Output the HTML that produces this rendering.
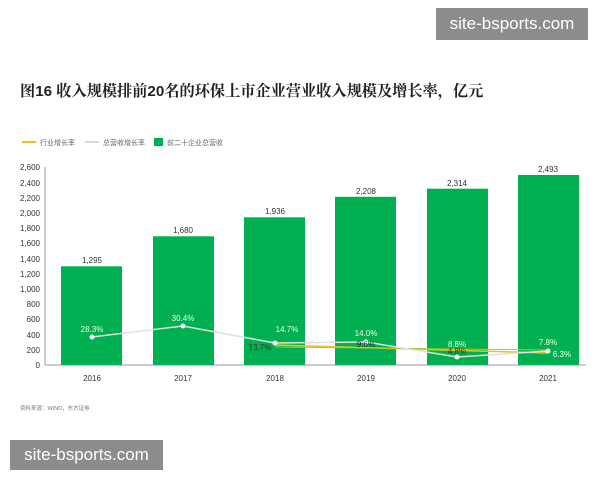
<!DOCTYPE html>
<html><head><meta charset="utf-8"><style>
body{margin:0;width:600px;height:480px;background:#fff;position:relative;overflow:hidden;font-family:"Liberation Sans","Noto Sans CJK SC",sans-serif}
.wm{position:absolute;background:#8c8c8c;color:#fff;font-size:17px;display:flex;align-items:center;justify-content:center}
</style></head><body>
<div class="wm" style="left:436px;top:8px;width:152px;height:32px">site-bsports.com</div>
<div class="wm" style="left:10px;top:440px;width:153px;height:30px">site-bsports.com</div>
<div style="position:absolute;left:20px;top:80px;font-size:15.2px;font-weight:bold;color:#222;font-family:'Liberation Sans','Noto Serif CJK SC',serif">图16 收入规模排前20名的环保上市企业营业收入规模及增长率，亿元</div>
<svg width="600" height="480" style="position:absolute;left:0;top:0" font-family="Liberation Sans, Noto Sans CJK SC, sans-serif">
<line x1="22" y1="142" x2="36" y2="142" stroke="#f0c020" stroke-width="2"/>
<text x="40" y="145" font-size="7" fill="#666">行业增长率</text>
<line x1="85" y1="142" x2="99" y2="142" stroke="#ccc" stroke-width="1.5"/>
<text x="103" y="145" font-size="7" fill="#666">总营收增长率</text>
<rect x="154" y="138" width="9" height="8" fill="#00b050"/>
<text x="167" y="145" font-size="7" fill="#666">前二十企业总营收</text>
<g font-size="8" fill="#333" text-anchor="end">
<text x="40" y="368">0</text><text x="40" y="353">200</text><text x="40" y="338">400</text><text x="40" y="322">600</text><text x="40" y="307">800</text><text x="40" y="292">1,000</text><text x="40" y="277">1,200</text><text x="40" y="262">1,400</text><text x="40" y="246">1,600</text><text x="40" y="231">1,800</text><text x="40" y="216">2,000</text><text x="40" y="201">2,200</text><text x="40" y="186">2,400</text><text x="40" y="170">2,600</text>
</g>
<line x1="45" y1="167" x2="45" y2="365" stroke="#999"/>
<line x1="45" y1="365" x2="586" y2="365" stroke="#999"/>
<g fill="#00b050">
<rect x="61" y="266.3" width="61" height="98.7"/>
<rect x="153" y="236.3" width="61" height="128.7"/>
<rect x="244" y="217.3" width="61" height="147.7"/>
<rect x="335" y="196.8" width="61" height="168.2"/>
<rect x="427" y="188.7" width="61" height="176.3"/>
<rect x="518" y="175" width="61" height="190"/>
</g>
<g font-size="8" fill="#333" text-anchor="middle">
<text x="92" y="263">1,295</text><text x="183" y="233">1,680</text><text x="275" y="214">1,936</text><text x="366" y="194">2,208</text><text x="457" y="186">2,314</text><text x="548" y="172">2,493</text>
</g>
<g font-size="8" fill="#333" text-anchor="middle">
<text x="92" y="381">2016</text><text x="183" y="381">2017</text><text x="275" y="381">2018</text><text x="366" y="381">2019</text><text x="457" y="381">2020</text><text x="548" y="381">2021</text>
</g>
<polyline points="275,345 548,353" fill="none" stroke="#f0c020" stroke-width="1.5"/>
<polyline points="275,347 457,349 548,350" fill="none" stroke="#9acd32" stroke-width="1"/>
<polyline points="92,337 183,326 275,343 366,342 457,357 548,351" fill="none" stroke="#e0e0e0" stroke-width="1.5"/>
<g fill="#fff"><circle cx="92" cy="337" r="2.5"/><circle cx="183" cy="326" r="2.5"/><circle cx="275" cy="343" r="2.5"/><circle cx="366" cy="342" r="2.5"/><circle cx="457" cy="357" r="2.5"/><circle cx="548" cy="351" r="2.5"/></g>
<g font-size="8" fill="#e8ffe8" text-anchor="middle">
<text x="92" y="332">28.3%</text><text x="183" y="321">30.4%</text><text x="287" y="332">14.7%</text><text x="366" y="336">14.0%</text><text x="457" y="347">8.8%</text><text x="548" y="345">7.8%</text><text x="562" y="357">6.3%</text>
</g>
<g font-size="8" fill="#333" text-anchor="middle"><text x="260" y="350">13.7%</text><text x="366" y="347">9.6%</text><text x="457" y="354">4.8%</text></g>
<text x="20" y="410" font-size="5.5" fill="#777">资料来源：WIND，东方证券</text>
</svg>
</body></html>
